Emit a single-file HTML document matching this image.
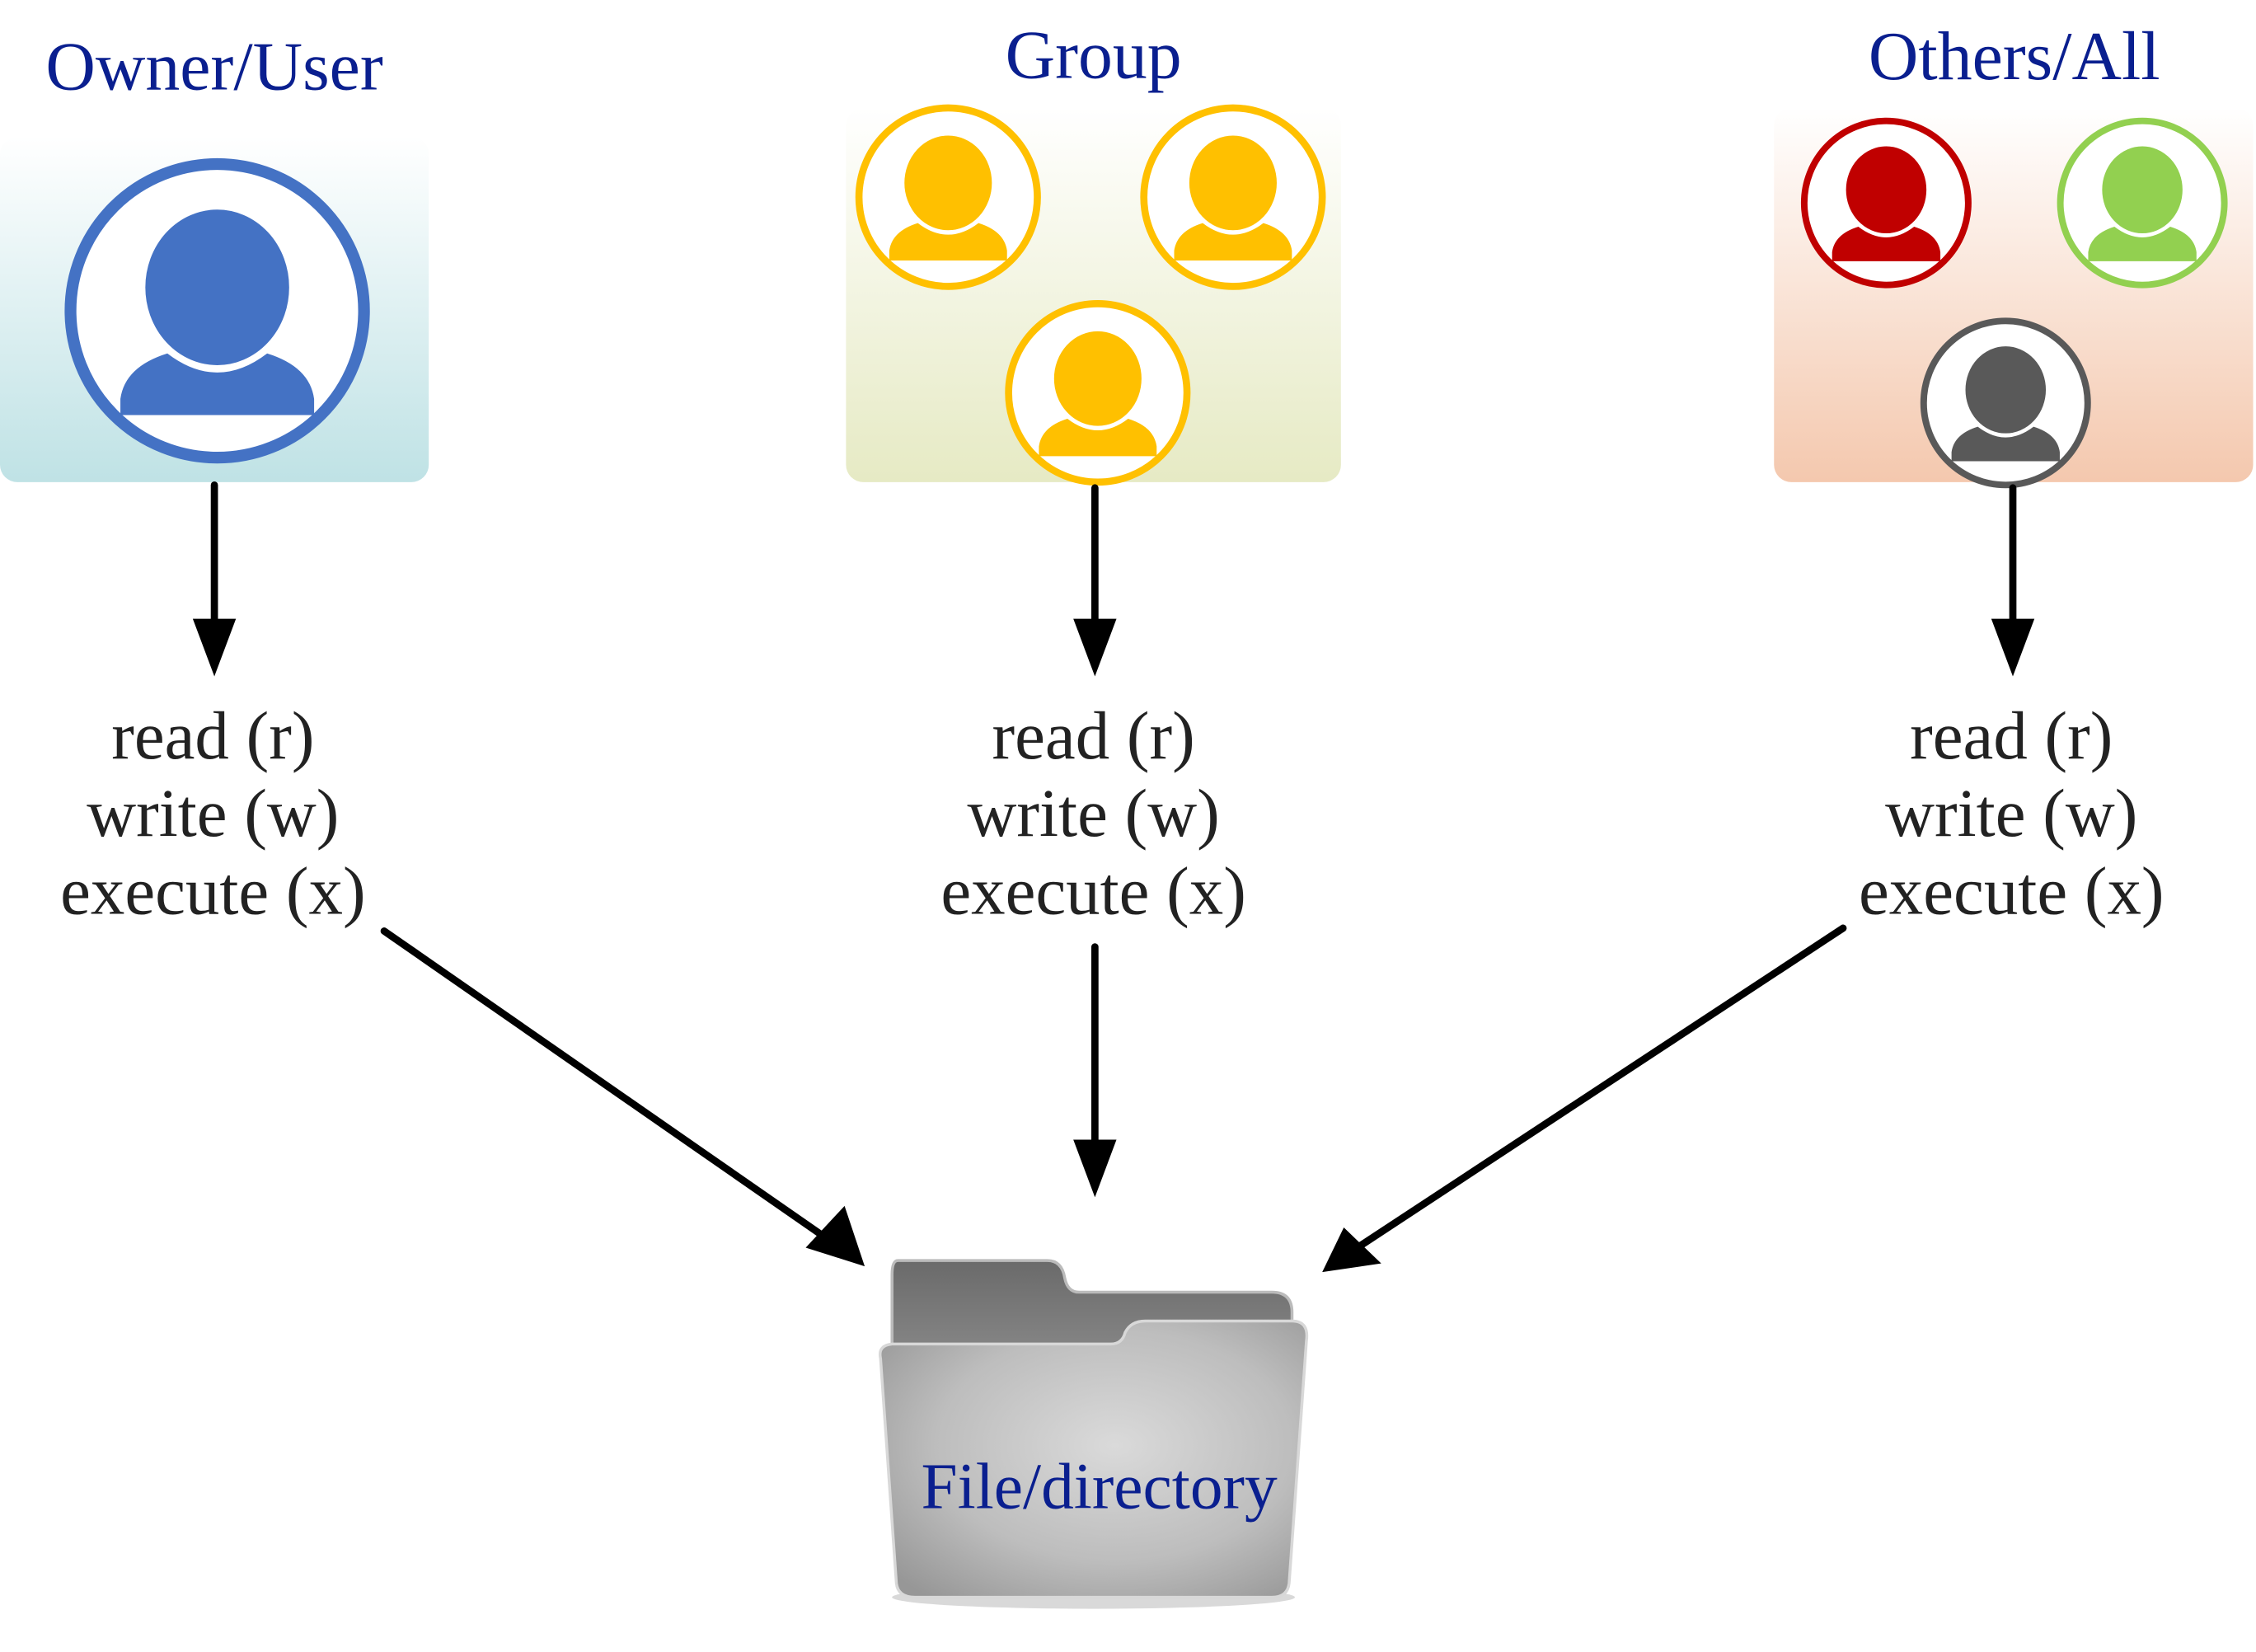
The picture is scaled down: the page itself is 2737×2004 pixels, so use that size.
<!DOCTYPE html>
<html><head><meta charset="utf-8"><style>html,body{margin:0;padding:0;background:#fff}svg{display:block}</style></head>
<body>
<svg width="2737" height="2004" viewBox="0 0 1568 1148" xmlns="http://www.w3.org/2000/svg" font-family="'Liberation Serif',serif">
<defs>
<linearGradient id="gb" x1="0" y1="0" x2="0" y2="1"><stop offset="0" stop-color="#fff"/><stop offset="1" stop-color="#bfe2e5"/></linearGradient>
<linearGradient id="gy" x1="0" y1="0" x2="0" y2="1"><stop offset="0" stop-color="#fff"/><stop offset="1" stop-color="#e6eac4"/></linearGradient>
<linearGradient id="go" x1="0" y1="0" x2="0" y2="1"><stop offset="0" stop-color="#fff"/><stop offset="1" stop-color="#f4c8ae"/></linearGradient>
<linearGradient id="fb" x1="0" y1="0" x2="0" y2="1"><stop offset="0" stop-color="#6a6a6a"/><stop offset="1" stop-color="#8a8a8a"/></linearGradient>
<radialGradient id="ff" cx="0.55" cy="0.45" r="0.7"><stop offset="0" stop-color="#dadada"/><stop offset="0.6" stop-color="#bdbdbd"/><stop offset="1" stop-color="#979797"/></radialGradient>
<g id="person">
<circle r="100" fill="#fff"/>
<path d="M-66,71 L-66,60 Q-63,38 -34,29 Q0,55 34,29 Q63,38 66,60 L66,71 Z" fill="currentColor"/>
<ellipse cx="0" cy="-16" rx="51" ry="55" fill="currentColor" stroke="#fff" stroke-width="4"/>
<circle r="100" fill="none" stroke="currentColor" stroke-width="8"/>
</g>
</defs>
<rect width="1568" height="1148" fill="#fff"/>
<rect x="0" y="95" width="298" height="240" rx="12" fill="url(#gb)"/>
<rect x="588" y="75" width="344" height="260" rx="12" fill="url(#gy)"/>
<rect x="1233" y="75" width="333" height="260" rx="12" fill="url(#go)"/>
<g fill="#0a1f8f" font-size="48" text-anchor="middle">
<text x="149" y="62">Owner/User</text>
<text x="760" y="54">Group</text>
<text x="1400" y="55">Others/All</text>
</g>
<use href="#person" transform="translate(151,216) scale(1.02)" color="#4472c4"/>
<use href="#person" transform="translate(659,137) scale(0.62)" color="#ffc000"/>
<use href="#person" transform="translate(857,137) scale(0.62)" color="#ffc000"/>
<use href="#person" transform="translate(763,273) scale(0.62)" color="#ffc000"/>
<use href="#person" transform="translate(1311,141) scale(0.57)" color="#c00000"/>
<use href="#person" transform="translate(1489,141) scale(0.57)" color="#92d050"/>
<use href="#person" transform="translate(1394,280) scale(0.57)" color="#595959"/>
<g stroke="#000" stroke-width="5" stroke-linecap="round">
<line x1="149" y1="337" x2="149" y2="440"/>
<line x1="761" y1="339" x2="761" y2="440"/>
<line x1="1399" y1="339" x2="1399" y2="440"/>
<line x1="761" y1="658" x2="761" y2="800"/>
<line x1="267" y1="647" x2="578" y2="863"/>
<line x1="1281" y1="645" x2="945" y2="866"/>
</g>
<g fill="#000">
<polygon points="134,430 164,430 149,470"/>
<polygon points="746,430 776,430 761,470"/>
<polygon points="1384,430 1414,430 1399,470"/>
<polygon points="746,792 776,792 761,832"/>
<polygon points="601,880 560,867 587,838"/>
<polygon points="919,884 934,853 960,878"/>
</g>
<g fill="#222" font-size="47.5" text-anchor="middle">
<text x="148" y="527">read (r)</text><text x="148" y="581">write (w)</text><text x="148" y="635">execute (x)</text>
<text x="760" y="527">read (r)</text><text x="760" y="581">write (w)</text><text x="760" y="635">execute (x)</text>
<text x="1398" y="527">read (r)</text><text x="1398" y="581">write (w)</text><text x="1398" y="635">execute (x)</text>
</g>
<ellipse cx="760" cy="1110" rx="140" ry="8" fill="#000" opacity="0.15"/>
<path d="M624,876 Q620,876 620,886 L620,950 L898,950 L898,912 Q898,898 884,898 L750,898 Q742,898 740,888 Q738,876 728,876 Z" fill="url(#fb)" stroke="#bbb" stroke-width="2"/>
<path d="M612,944 Q610,935 620,934 L772,934 Q780,934 782,926 Q786,918 796,918 L898,918 Q910,918 908,932 L896,1100 Q895,1110 884,1110 L636,1110 Q624,1110 623,1100 Z" fill="url(#ff)" stroke="#d8d8d8" stroke-width="2"/>
<text x="764" y="1048" fill="#0a1f8f" font-size="45.5" text-anchor="middle">File/directory</text>
</svg>
</body></html>
